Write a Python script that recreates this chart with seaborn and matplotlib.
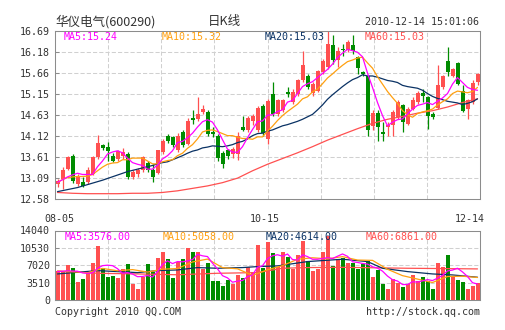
import numpy as np
import pandas as pd
import matplotlib
matplotlib.use("Agg")
import matplotlib.pyplot as plt
import seaborn as sns

# ---------------- data ----------------
date_labels = ["08-05", "10-15", "12-14"]
date_pos = [0.4, 41.4, 82.4]

open_ = [12.95, 13.07, 13.32, 13.63, 12.95, 12.99, 12.99, 13.19, 13.60, 13.89,
         13.86, 13.64, 13.56, 13.62, 13.69, 13.11, 13.18, 13.29, 13.46, 13.29,
         13.21, 13.73, 14.11, 14.09, 13.77, 14.21, 13.93, 14.56, 14.54, 14.70,
         14.70, 14.21, 14.13, 13.70, 13.77, 13.67, 13.69, 14.34, 14.27, 14.48,
         14.27, 14.85, 14.04, 15.15, 14.66, 14.76, 15.19, 14.95, 15.15, 15.48,
         15.59, 15.17, 15.23, 15.68, 15.81, 16.34, 15.98, 16.26, 16.23, 16.34,
         16.05, 15.68, 15.59, 14.36, 14.69, 14.23, 14.35, 14.38, 14.58, 14.87,
         14.42, 14.79, 14.95, 15.17, 15.07, 14.66, 14.81, 15.33, 15.95, 15.60,
         15.90, 15.23, 14.77, 14.95, 15.44]
high = [13.07, 13.36, 13.64, 13.67, 13.20, 13.11, 13.36, 13.64, 14.15, 13.93,
        13.97, 13.70, 13.78, 13.83, 13.73, 13.29, 13.34, 13.64, 13.50, 13.44,
        13.79, 14.05, 14.17, 14.13, 14.19, 14.26, 14.57, 14.76, 15.07, 14.89,
        14.75, 14.34, 14.17, 13.75, 13.81, 13.85, 14.21, 14.60, 14.62, 14.66,
        14.85, 14.91, 15.03, 15.44, 15.03, 15.03, 15.32, 15.28, 15.52, 16.20,
        15.64, 15.44, 15.74, 16.01, 16.68, 16.60, 16.29, 16.38, 16.47, 16.58,
        16.09, 15.72, 15.60, 14.75, 14.75, 14.46, 14.46, 14.76, 14.99, 14.91,
        14.83, 15.07, 15.21, 15.28, 15.11, 14.70, 15.85, 15.62, 16.29, 15.79,
        15.93, 15.36, 15.03, 15.48, 15.66]
low = [12.88, 12.83, 13.28, 12.97, 12.91, 12.87, 12.95, 13.17, 13.56, 13.78,
       13.52, 13.48, 13.52, 13.56, 13.07, 13.07, 13.11, 13.24, 13.24, 12.99,
       13.18, 13.68, 13.95, 13.86, 13.73, 13.85, 13.89, 14.42, 14.50, 14.66,
       14.13, 14.09, 13.52, 13.34, 13.56, 13.59, 13.54, 14.25, 14.21, 14.38,
       14.22, 14.13, 13.93, 14.62, 14.62, 14.70, 15.07, 14.91, 15.11, 15.44,
       15.28, 15.11, 15.19, 15.64, 15.76, 15.89, 15.81, 16.09, 16.17, 16.13,
       15.64, 15.60, 14.13, 14.26, 14.01, 14.01, 14.13, 14.13, 14.54, 14.21,
       14.38, 14.75, 14.91, 14.95, 14.30, 14.54, 14.77, 15.28, 15.60, 15.56,
       15.36, 14.70, 14.54, 14.91, 15.36]
close = [13.03, 13.29, 13.60, 13.01, 13.11, 12.91, 13.28, 13.60, 13.95, 13.82,
         13.75, 13.52, 13.75, 13.73, 13.13, 13.24, 13.28, 13.60, 13.29, 13.13,
         13.77, 14.01, 14.01, 13.89, 14.13, 13.89, 14.50, 14.52, 14.66, 14.77,
         14.17, 14.17, 13.58, 13.44, 13.64, 13.81, 14.13, 14.27, 14.57, 14.60,
         14.80, 14.19, 14.97, 14.66, 14.99, 14.99, 15.14, 15.19, 15.48, 15.85,
         15.33, 15.40, 15.70, 15.95, 16.38, 15.97, 16.21, 16.22, 16.43, 16.21,
         15.78, 15.64, 14.26, 14.68, 14.34, 14.17, 14.40, 14.72, 14.95, 14.46,
         14.79, 14.99, 15.17, 15.11, 14.62, 14.58, 15.36, 15.58, 15.68, 15.75,
         15.40, 14.74, 14.99, 15.42, 15.63]
volume = [5940, 5873, 7088, 6480, 3713, 4253, 5400, 7560, 11003, 6480,
          4725, 4928, 4523, 6278, 7290, 3240, 2228, 4725, 7290, 5738,
          8573, 9653, 8303, 4523, 7763, 8303, 10598, 9653, 9788, 6278,
          7560, 3915, 3915, 2903, 4050, 3173, 5063, 4523, 6750, 5738,
          11138, 6413, 11813, 9585, 6750, 9653, 8640, 6210, 9113, 12015,
          7898, 5873, 6278, 9788, 12960, 6953, 8235, 8573, 7425, 7425,
          6278, 7223, 7898, 4725, 6075, 3240, 2228, 4253, 3375, 2565,
          3173, 5063, 3915, 4590, 3848, 2228, 7425, 6750, 9113, 4725,
          4050, 3713, 2160, 2835, 3375]

# price moving averages
ma5 = [12.99, 13.05, 13.12, 13.17, 13.21, 13.18, 13.18, 13.18, 13.37, 13.51,
       13.68, 13.73, 13.76, 13.71, 13.58, 13.47, 13.43, 13.40, 13.31, 13.31,
       13.41, 13.56, 13.64, 13.76, 13.96, 13.99, 14.08, 14.19, 14.34, 14.47,
       14.52, 14.46, 14.27, 14.03, 13.80, 13.73, 13.72, 13.86, 14.08, 14.28,
       14.47, 14.49, 14.63, 14.64, 14.72, 14.76, 14.95, 14.99, 15.16, 15.33,
       15.40, 15.45, 15.55, 15.65, 15.75, 15.88, 16.04, 16.15, 16.24, 16.21,
       16.17, 16.06, 15.66, 15.31, 14.94, 14.62, 14.37, 14.46, 14.52, 14.54,
       14.66, 14.78, 14.87, 14.90, 14.94, 14.89, 14.97, 15.05, 15.16, 15.39,
       15.55, 15.43, 15.31, 15.26, 15.24]
ma10 = [12.98, 13.06, 13.10, 13.12, 13.13, 13.13, 13.14, 13.18, 13.27, 13.36,
        13.43, 13.46, 13.47, 13.54, 13.54, 13.58, 13.58, 13.58, 13.51, 13.44,
        13.44, 13.49, 13.52, 13.54, 13.64, 13.70, 13.82, 13.91, 14.05, 14.22,
        14.26, 14.27, 14.23, 14.18, 14.13, 14.13, 14.09, 14.06, 14.06, 14.04,
        14.10, 14.10, 14.24, 14.36, 14.50, 14.62, 14.72, 14.81, 14.90, 15.03,
        15.08, 15.20, 15.27, 15.40, 15.54, 15.64, 15.75, 15.85, 15.94, 15.98,
        16.03, 16.05, 15.91, 15.78, 15.57, 15.39, 15.21, 15.06, 14.92, 14.74,
        14.64, 14.58, 14.67, 14.71, 14.74, 14.78, 14.88, 14.96, 15.03, 15.16,
        15.22, 15.20, 15.18, 15.21, 15.31]
ma20_x = [0, 4, 9, 14] + list(range(19, 85))
ma20 = [12.76, 12.86, 13.04, 13.25,
        13.40, 13.44, 13.47, 13.49, 13.54, 13.59, 13.64, 13.70, 13.75, 13.78,
        13.83, 13.85, 13.88, 13.87, 13.86, 13.88, 13.91, 13.96, 13.99, 14.05,
        14.13, 14.18, 14.19, 14.24, 14.27, 14.32, 14.37, 14.40, 14.44, 14.48,
        14.53, 14.59, 14.65, 14.76, 14.88, 15.02, 15.13, 15.23, 15.33, 15.42,
        15.50, 15.55, 15.62, 15.59, 15.59, 15.56, 15.52, 15.48, 15.46, 15.43,
        15.36, 15.33, 15.31, 15.29, 15.24, 15.16, 15.09, 15.04, 15.01, 14.97,
        14.95, 14.93, 14.89, 14.92, 14.96, 15.03]
ma60_x = [0, 3, 6, 9, 12, 15, 18, 21, 24, 27, 30, 33, 36, 39, 42, 45, 48, 51,
          54, 57, 60, 63, 66, 69, 72, 75, 78, 81, 84]
ma60 = [12.74, 12.72, 12.71, 12.71, 12.71, 12.72, 12.72, 12.74, 12.78, 12.84,
        12.90, 12.98, 13.09, 13.27, 13.43, 13.57, 13.71, 13.86, 14.02, 14.16,
        14.30, 14.43, 14.53, 14.60, 14.68, 14.74, 14.83, 14.94, 15.03]

# volume moving averages
vma5 = [5738, 5800, 5900, 5850, 5819, 5481, 5387, 5481, 6386, 6939,
        7034, 6939, 6332, 5387, 5549, 5252, 4712, 4752, 4955, 4644,
        5711, 7196, 7911, 7358, 7763, 7709, 7898, 8168, 9221, 8924,
        8775, 7439, 6291, 4914, 4469, 3591, 3821, 3942, 4712, 5049,
        6642, 6912, 8370, 8937, 9140, 8843, 9288, 8168, 8073, 9126,
        8775, 8222, 8235, 8370, 8559, 8370, 8843, 9302, 8829, 7722,
        7587, 7385, 7250, 6710, 6440, 5832, 4833, 4104, 3834, 3132,
        3119, 3686, 3618, 3861, 4118, 3929, 4401, 4968, 5873, 6048,
        6413, 5670, 4752, 3497, 3227]
vma10_x = [0, 3, 6, 9, 12, 15, 18, 21, 24, 27, 30, 33, 36, 39, 42, 45, 48, 51,
           54, 57, 60, 63, 66, 69, 72, 75, 78, 81, 84]
vma10 = [5800, 5700, 5500, 6379, 5907, 6143, 5643, 6224, 6359, 7682,
         8269, 6541, 6298, 4982, 6096, 6946, 8222, 8532, 8316, 8762,
         8073, 8006, 6210, 4921, 4226, 3531, 4746, 4800, 4550]
vma20_x = [0, 8, 16, 20, 24, 28, 32, 37, 40, 44, 50, 57, 62, 65, 70, 75, 79, 84]
vma20 = [5265, 5940, 5535, 5940, 6075, 6548, 6413, 6548, 6750, 6885,
         7763, 8235, 7763, 6413, 5738, 5265, 5063, 4600]
vma60_x = [0, 8, 16, 24, 32, 40, 45, 50, 57, 64, 70, 77, 84]
vma60 = [5870, 5400, 5265, 5100, 5400, 5535, 6413, 6550, 6600, 6500,
         6413, 6350, 6278]

price_tick_labels = ["12.58", "13.09", "13.61", "14.12", "14.63",
                     "15.15", "15.66", "16.18", "16.69"]
vol_tick_labels = ["0", "3510", "7020", "10530", "14040"]

title_name = "华仪电气(600290)"
title_mid = "日K线"
title_time = "2010-12-14 15:01:06"
price_ma_texts = ["MA5:15.24", "MA10:15.32", "MA20:15.03", "MA60:15.03"]
vol_ma_texts = ["MA5:3576.00", "MA10:5058.00", "MA20:4614.00", "MA60:6861.00"]
footer_left = "Copyright 2010 QQ.COM"
footer_right = "http://stock.qq.com"

# ---------------- styling ----------------
RED = "#ff5050"
GREEN = "#008c00"
C_MA5 = "#ff00ff"
C_MA10 = "#ffa010"
C_MA20 = "#0a3264"
C_MA60 = "#ff5050"
TXT = "#333333"
FRAME = "#8c8c8c"
GRID = "#d0d0d0"

sns.set_theme(style="white")
plt.rcParams["font.family"] = ["DejaVu Sans Mono", "Noto Sans CJK SC"]
plt.rcParams["axes.linewidth"] = 0.75
FS = 7.2

W, H = 505, 330
fig = plt.figure(figsize=(W / 100, H / 100), dpi=100, facecolor="white")

def px_rect(x0, y0, x1, y1):
    return [x0 / W, 1 - y1 / H, (x1 - x0) / W, (y1 - y0) / H]

ax1 = fig.add_axes(px_rect(55, 31, 480, 199))
ax2 = fig.add_axes(px_rect(55, 230.5, 480, 300))

n = len(close)
idx = np.arange(n)
up = np.array(close) >= np.array(open_)
colors = np.where(up, RED, GREEN)

# ---------------- price panel ----------------
ymin, ymax = 12.58, 16.69
price_ticks = np.linspace(ymin, ymax, 9)
xgrid = np.linspace(-0.5, n - 0.5, 9)[1:-1]
dash = (0, (4, 2))
for yv in price_ticks[1:-1]:
    ax1.axhline(yv, color=GRID, lw=0.75, ls=dash, zorder=0)
for xv in xgrid:
    ax1.axvline(xv, color=GRID, lw=0.75, ls=dash, zorder=0)

o = np.array(open_); c = np.array(close)
body_bottom = np.minimum(o, c)
body_h = np.maximum(np.abs(c - o), 0.025)
ax1.vlines(idx, low, high, colors=colors, lw=0.9, zorder=2)
ax1.bar(idx, body_h, bottom=body_bottom, width=0.8, color=colors,
        linewidth=0, zorder=2)

line_kw = dict(lw=0.9, zorder=3, legend=False)
sns.lineplot(x=ma60_x, y=ma60, ax=ax1, color=C_MA60, **line_kw)
sns.lineplot(x=ma20_x, y=ma20, ax=ax1, color=C_MA20, **line_kw)
sns.lineplot(x=idx, y=ma10, ax=ax1, color=C_MA10, **line_kw)
sns.lineplot(x=idx, y=ma5, ax=ax1, color=C_MA5, **line_kw)

ax1.set_xlim(-0.5, n - 0.5)
ax1.set_ylim(ymin, ymax)
ax1.set_yticks(price_ticks)
ax1.set_yticklabels(price_tick_labels)
ax1.set_xticks(date_pos)
ax1.set_xticklabels(date_labels)
ax1.tick_params(axis="x", length=0, pad=11, labelsize=FS, labelcolor=TXT)
ax1.tick_params(axis="y", direction="in", length=3, width=0.75, color=FRAME,
                pad=3.5, labelsize=FS, labelcolor=TXT, left=True)
ax1.set_xlabel(""); ax1.set_ylabel("")
for s in ax1.spines.values():
    s.set_color(FRAME); s.set_linewidth(0.75)

mx = [64, 162, 265, 365]
mcols = [C_MA5, C_MA10, C_MA20, C_MA60]
for xp, t, col in zip(mx, price_ma_texts, mcols):
    fig.text(xp / W, 1 - 37 / H, t, color=col, fontsize=FS, ha="left", va="center")

# ---------------- volume panel ----------------
vmax = 14040
vol_ticks = np.linspace(0, vmax, 5)
dfv = pd.DataFrame({"i": idx, "v": volume, "dir": np.where(up, "up", "down")})
sns.barplot(data=dfv, x="i", y="v", hue="dir", palette={"up": RED, "down": GREEN},
            dodge=False, width=0.8, saturation=1, errorbar=None, legend=False,
            linewidth=0, ax=ax2, zorder=2)
for yv in vol_ticks[1:-1]:
    ax2.axhline(yv, color=GRID, lw=0.75, ls=dash, zorder=0)
for xv in xgrid[::2]:
    ax2.axvline(xv, color=GRID, lw=0.75, ls=dash, zorder=0)

sns.lineplot(x=vma60_x, y=vma60, ax=ax2, color=C_MA60, **line_kw)
sns.lineplot(x=vma20_x, y=vma20, ax=ax2, color=C_MA20, **line_kw)
sns.lineplot(x=vma10_x, y=vma10, ax=ax2, color=C_MA10, **line_kw)
sns.lineplot(x=idx, y=vma5, ax=ax2, color=C_MA5, **line_kw)

ax2.set_xlim(-0.5, n - 0.5)
ax2.set_ylim(0, vmax)
ax2.set_yticks(vol_ticks)
ax2.set_yticklabels(vol_tick_labels)
ax2.set_xticks([])
ax2.set_xlabel(""); ax2.set_ylabel("")
ax2.tick_params(axis="y", direction="in", length=3, width=0.75, color=FRAME,
                pad=3.5, labelsize=FS, labelcolor=TXT, left=True)
for s in ax2.spines.values():
    s.set_color(FRAME); s.set_linewidth(0.75)

for xp, t, col in zip(mx, vol_ma_texts, mcols):
    fig.text((xp + 1) / W, 1 - 237 / H, t, color=col, fontsize=FS, ha="left", va="center")

# ---------------- header / footer ----------------
cjk = ["Noto Sans CJK SC", "DejaVu Sans"]
fig.text(55 / W, 1 - 22 / H, title_name, family=cjk, fontsize=9, color=TXT,
         ha="left", va="center")
fig.text(224 / W, 1 - 22 / H, title_mid, family=cjk, fontsize=9, color=TXT,
         ha="center", va="center")
fig.text(479 / W, 1 - 22 / H, title_time, fontsize=FS, color=TXT,
         ha="right", va="center")
fig.text(55 / W, 1 - 312 / H, footer_left, fontsize=FS, color=TXT,
         ha="left", va="center")
fig.text(480 / W, 1 - 312 / H, footer_right, fontsize=FS, color=TXT,
         ha="right", va="center")

fig.savefig("out.png", dpi=100, facecolor="white")
